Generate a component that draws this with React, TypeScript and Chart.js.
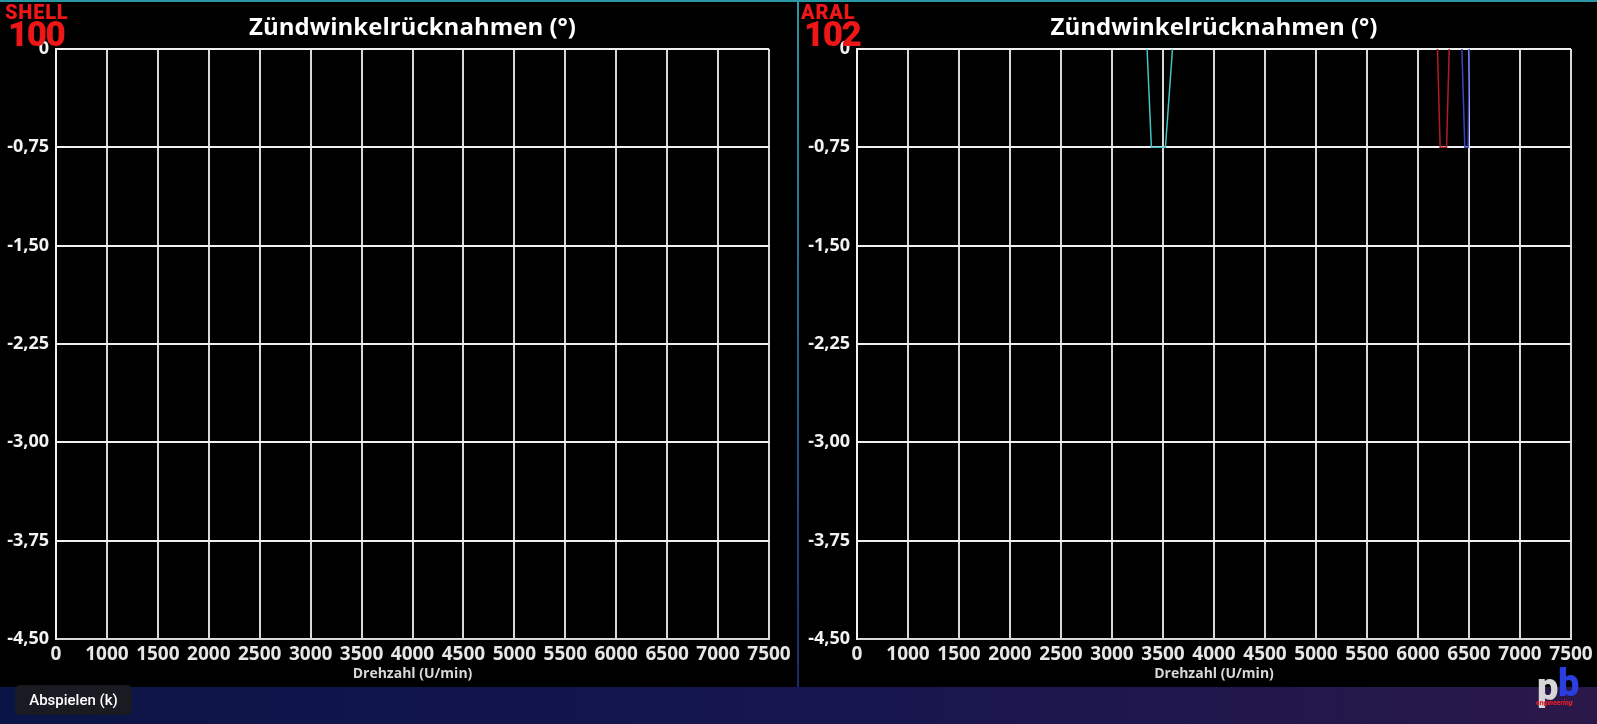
import { useEffect, useRef } from "react"
import { Chart, registerables } from "chart.js"

Chart.register(...registerables)

// x axis: the first gridline is labelled "0", the rest every 500 rpm
const xTickLabels = ["0", "1000", "1500", "2000", "2500", "3000", "3500", "4000", "4500", "5000", "5500", "6000", "6500", "7000", "7500"]
const yTickLabels = ["-4,50", "-3,75", "-3,00", "-2,25", "-1,50", "-0,75", "0"]

// ARAL 102 traces (rpm / degrees)
const cyanRpm = [3344, 3386, 3524, 3593]
const cyanDeg = [0, -0.75, -0.75, 0]
const redRpm = [6191, 6217, 6280, 6306]
const redDeg = [0, -0.75, -0.75, 0]
const blueRpm = [6430, 6459, 6492, 6502]
const blueDeg = [0, -0.75, -0.75, 0]

const chartTitle = "Zündwinkelrücknahmen (°)"
const xTitle = "Drehzahl (U/min)"

interface Trace {
  rpm: number[]
  deg: number[]
  color: string
}

const FONT = "'Open Sans', 'Noto Sans', sans-serif"

const IgnitionChart: React.FC<{ traces: Trace[]; padRight: number }> = ({ traces, padRight }) => {
  const canvasRef = useRef<HTMLCanvasElement | null>(null)

  useEffect(() => {
    if (!canvasRef.current) return
    const chart = new Chart(canvasRef.current, {
      type: "line",
      data: {
        datasets: traces.map((t) => ({
          data: t.rpm.map((x, i) => ({ x, y: t.deg[i] })),
          borderColor: t.color,
          borderWidth: 1.5,
          pointRadius: 0,
          tension: 0,
          fill: false,
        })),
      },
      options: {
        animation: false,
        responsive: true,
        maintainAspectRatio: false,
        layout: { padding: { left: 0, right: padRight, top: 0, bottom: 0 } },
        plugins: {
          legend: { display: false },
          tooltip: { enabled: false },
          title: {
            display: true,
            text: chartTitle,
            color: "#ffffff",
            fullSize: false,
            font: { family: FONT, size: 24, weight: "bold" },
            padding: { top: 14, bottom: 6.2 },
          },
        },
        scales: {
          x: {
            type: "linear",
            min: 500,
            max: 7500,
            afterFit: (s) => {
              s.height = 48
            },
            ticks: {
              stepSize: 500,
              autoSkip: false,
              maxRotation: 0,
              padding: 4,
              color: "#e6e6e6",
              font: { family: FONT, size: 19, weight: "bold" },
              callback: (_v, i) => xTickLabels[i],
            },
            grid: { color: "#d8d8d8", lineWidth: 2, drawTicks: false },
            border: { color: "#d8d8d8", width: 2 },
            title: {
              display: true,
              text: xTitle,
              color: "#d8d8d8",
              font: { family: FONT, size: 14, weight: "bold" },
              padding: { top: 0, bottom: 4.6 },
            },
          },
          y: {
            type: "linear",
            min: -4.5,
            max: 0,
            afterFit: (s) => {
              s.width = 56
            },
            ticks: {
              stepSize: 0.75,
              padding: 7,
              color: "#f2f2f2",
              font: { family: FONT, size: 18, weight: "bold" },
              callback: (_v, i) => yTickLabels[i],
            },
            grid: { color: "#f0f0f0", lineWidth: 2, drawTicks: false },
            border: { color: "#f0f0f0", width: 2 },
          },
        },
      },
    })
    return () => chart.destroy()
  }, [traces, padRight])

  return <canvas ref={canvasRef} />
}

const Badge: React.FC<{ top: string; bottom: string; left: number }> = ({ top, bottom, left }) => (
  <div style={{ position: "absolute", left, top: 0, color: "#ee1616", fontFamily: "'Roboto', sans-serif", fontWeight: 900, lineHeight: 1 }}>
    <div style={{ position: "absolute", left: 0, top: 1.5, fontSize: 20, letterSpacing: 0.8, whiteSpace: "nowrap" }}>{top}</div>
    <div style={{ position: "absolute", left: 3, top: 17.4, fontSize: 35, letterSpacing: -1.5, whiteSpace: "nowrap" }}>{bottom}</div>
  </div>
)

const leftTraces: Trace[] = []
const rightTraces: Trace[] = [
  { rpm: cyanRpm, deg: cyanDeg, color: "#45c4c4" },
  { rpm: redRpm, deg: redDeg, color: "#b41c22" },
  { rpm: blueRpm, deg: blueDeg, color: "#3a44c0" },
]

export default function App() {
  return (
    <div style={{ position: "fixed", left: 0, top: 0, width: 1597, height: 724, background: "#000", overflow: "hidden" }}>
      <div style={{ position: "absolute", left: 0, top: 0, width: 1597, height: 2, background: "#2a97a4" }} />
      <div style={{ position: "absolute", left: 797, top: 0, width: 2, height: 687, background: "linear-gradient(#2a97a4, #1a2a66)" }} />
      <div style={{ position: "absolute", left: 0, top: 0, width: 797, height: 687 }}>
        <IgnitionChart traces={leftTraces} padRight={28} />
      </div>
      <div style={{ position: "absolute", left: 801, top: 0, width: 796, height: 687 }}>
        <IgnitionChart traces={rightTraces} padRight={26} />
      </div>
      <Badge top="SHELL" bottom="100" left={5} />
      <Badge top="ARAL" bottom="102" left={801} />
      <div style={{ position: "absolute", left: 0, top: 687, width: 1597, height: 37, background: "linear-gradient(90deg, #0a1446 0%, #161650 50%, #2a1848 100%)" }} />
      <div style={{ position: "absolute", left: 15, top: 685, width: 117, height: 30, borderRadius: 5, background: "rgba(28,28,32,0.92)", color: "#fff", fontFamily: "'Roboto', sans-serif", fontWeight: 500, fontSize: 15, lineHeight: "30px", textAlign: "center" }}>
        Abspielen (k)
      </div>
      <div style={{ position: "absolute", left: 1536, top: 668, width: 50, height: 44, fontFamily: "'Roboto', sans-serif", fontWeight: 900 }}>
        <span style={{ position: "absolute", left: 1, top: 0, fontSize: 38, color: "#d6d6d6", lineHeight: 1 }}>p</span>
        <span style={{ position: "absolute", left: 22, top: -4, fontSize: 38, color: "#2a3fe0", lineHeight: 1 }}>b</span>
        <span style={{ position: "absolute", left: 0, top: 31, fontSize: 7, color: "#e0202a", fontStyle: "italic" }}>engineering</span>
      </div>
    </div>
  )
}
